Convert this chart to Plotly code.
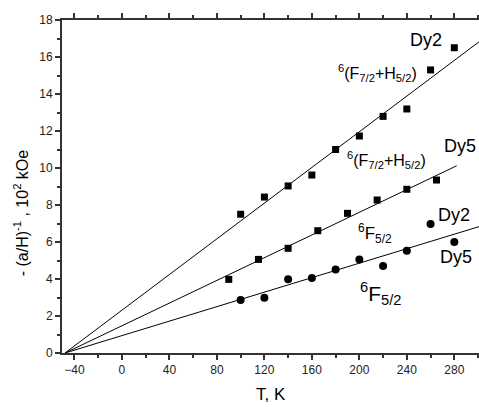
import plotly.graph_objects as go

# Dy2, 6(F7/2+H5/2) - squares (upper)
T_dy2_sq = [100, 120, 140, 160, 180, 200, 220, 240, 260, 280]
v_dy2_sq = [7.5, 8.43, 9.03, 9.62, 11.0, 11.73, 12.79, 13.19, 15.3, 16.5]

# Dy5, 6(F7/2+H5/2) - squares (middle)
T_dy5_sq = [90, 115, 140, 165, 190, 215, 240, 265]
v_dy5_sq = [3.98, 5.06, 5.66, 6.61, 7.55, 8.27, 8.85, 9.35]

# 6F5/2 - circles
T_circ = [100, 120, 140, 160, 180, 200, 220, 240, 260, 280]
v_circ = [2.86, 2.99, 3.98, 4.05, 4.52, 5.06, 4.70, 5.53, 6.97, 6.0]

# fit lines (endpoints)
fit_up_T = [-48, 300.8]
fit_up_v = [0, 16.82]
fit_mid_T = [-48, 282]
fit_mid_v = [0, 10.12]
fit_low_T = [-48, 300.8]
fit_low_v = [0, 6.83]

fig = go.Figure()
for tx, vy in [(fit_up_T, fit_up_v), (fit_mid_T, fit_mid_v), (fit_low_T, fit_low_v)]:
    fig.add_trace(go.Scatter(x=tx, y=vy, mode="lines",
                             line=dict(color="black", width=1), showlegend=False))
fig.add_trace(go.Scatter(x=T_dy2_sq, y=v_dy2_sq, mode="markers",
                         marker=dict(symbol="square", size=7, color="black"), showlegend=False))
fig.add_trace(go.Scatter(x=T_dy5_sq, y=v_dy5_sq, mode="markers",
                         marker=dict(symbol="square", size=7, color="black"), showlegend=False))
fig.add_trace(go.Scatter(x=T_circ, y=v_circ, mode="markers",
                         marker=dict(symbol="circle", size=8, color="black"), showlegend=False))

FONT = "Liberation Sans, Arial, sans-serif"
ann = [
    ("Dy2", 255.8, 16.9, 18),
    ("<sup>6</sup>(F<sub>7/2</sub>+H<sub>5/2</sub>)", 215.4, 15.15, 16),
    ("Dy5", 284.4, 11.2, 18),
    ("<sup>6</sup>(F<sub>7/2</sub>+H<sub>5/2</sub>)", 223, 10.45, 16),
    ("<sup>6</sup>F<sub>5/2</sub>", 213, 6.45, 17),
    ("Dy2", 279.7, 7.46, 18),
    ("Dy5", 281.4, 5.19, 18),
    ("<sup>6</sup>F<sub>5/2</sub>", 218, 3.2, 21),
]
for text, x, y, s in ann:
    fig.add_annotation(x=x, y=y, text=text, showarrow=False,
                       font=dict(family=FONT, size=s, color="black"))

fig.add_annotation(xref="paper", yref="paper", x=-0.098, y=0.42, xanchor="center",
                   yanchor="middle",
                   text="- (a/H)<sup>-1</sup> , 10<sup>2</sup> kOe", textangle=-90,
                   showarrow=False, font=dict(family=FONT, size=16, color="black"))
fig.add_annotation(xref="paper", yref="paper", x=0.5, y=-0.125, xanchor="center",
                   text="T, K", showarrow=False, yanchor="middle",
                   font=dict(family=FONT, size=17, color="black"))

axis_common = dict(showgrid=False, zeroline=False, showline=True, linecolor="#333",
                   linewidth=2, ticks="outside", ticklen=5, tickwidth=1.5, tickcolor="#333",
                   tickfont=dict(family=FONT, size=12, color="#222"))
fig.update_xaxes(range=[-50.5, 300.8], tickvals=[-40, 0, 40, 80, 120, 160, 200, 240, 280],
                 mirror="allticks",
                 minor=dict(ticks="outside", ticklen=3, dtick=20, tick0=0, tickcolor="#333"),
                 **axis_common)
fig.update_yaxes(range=[0, 18], dtick=2, mirror=False,
                 minor=dict(ticks="outside", ticklen=3, dtick=1, tickcolor="#333"),
                 **axis_common)
fig.update_layout(width=479, height=407, margin=dict(l=62, r=0, t=20, b=54),
                  plot_bgcolor="white", paper_bgcolor="white")
fig.write_html("out.html", config={"displayModeBar": False},
               post_script="document.body.style.margin='0';document.body.style.overflow='hidden';")
